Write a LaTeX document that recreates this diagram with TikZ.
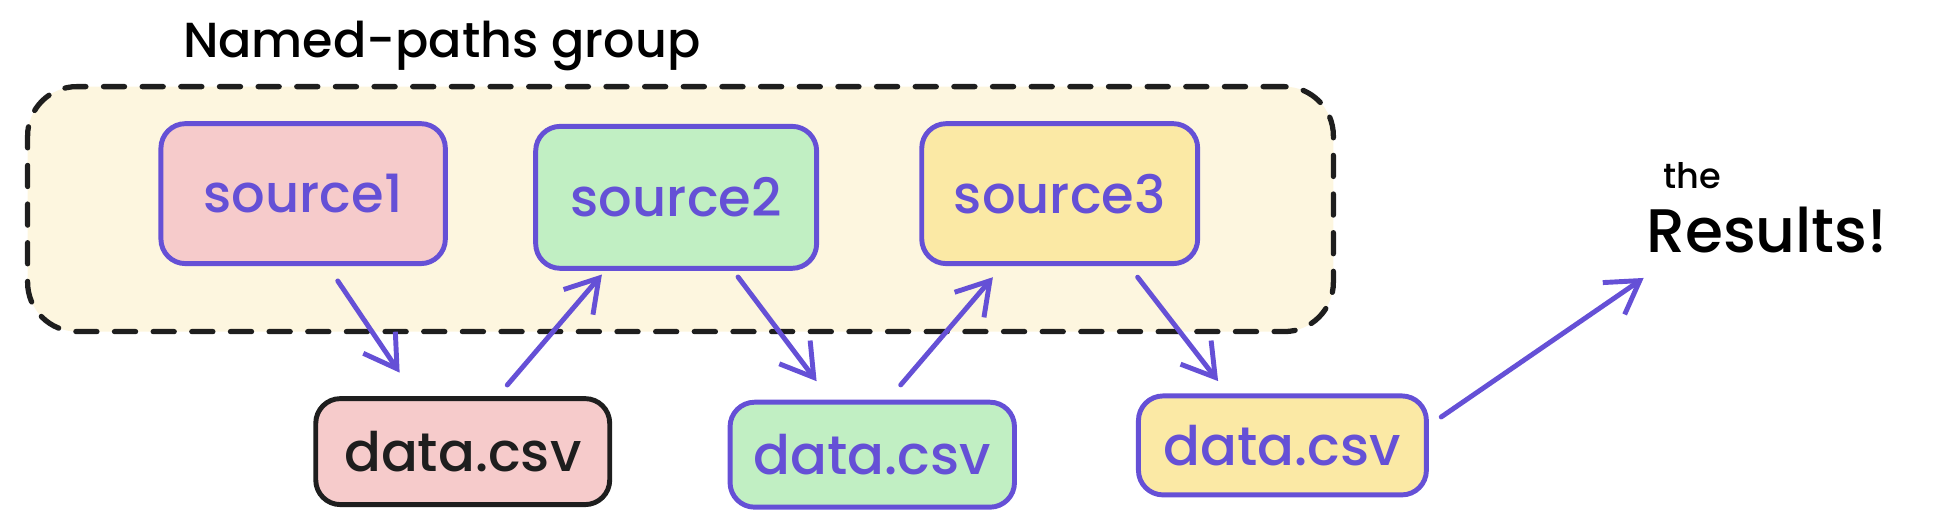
\documentclass[tikz,border=0pt]{standalone}
\usepackage{fontspec}
\setmainfont{Poppins}[UprightFont={* Medium}]
\usetikzlibrary{arrows.meta,calc}
\definecolor{violet}{HTML}{6550D6}
\definecolor{ink}{HTML}{1E1E1E}
\definecolor{rose}{HTML}{F6CBCB}
\definecolor{mint}{HTML}{C1EFC3}
\definecolor{sand}{HTML}{FBE9A5}
\definecolor{cream}{HTML}{FDF6DF}
\tikzset{
  src/.style={draw=violet, text=violet, line width=1.4pt, rounded corners=7pt,
    minimum width=2.8cm, minimum height=1.4cm, inner sep=0pt, font=\fontsize{15}{18}\selectfont},
  csv/.style={src, minimum height=1.03cm, font=\fontsize{15.5}{19}\selectfont},
  arr/.style={draw=violet, line width=1.4pt, line cap=round,
    -{Straight Barb[length=9pt,width=11pt,line width=1.4pt]}},
}
\begin{document}
\begin{tikzpicture}[x=0.01237cm, y=-0.01237cm]
\useasboundingbox (0,0) rectangle (1568,422);
\path (550,169) node (grp) [draw=ink, fill=cream, line width=1.5pt, dash pattern=on 6pt off 5pt,
		line cap=round, rounded corners=14pt, minimum width=13.06cm, minimum height=2.45cm] {}
		(357,37) node (lbl) {\fontsize{14}{17}\selectfont Named-paths group}
		(245,156.5) node (src1) [src, fill=rose, minimum width=2.845cm] {source1}
		(546.5,159.5) node (src2) [src, fill=mint, minimum width=2.81cm, minimum height=1.42cm] {source2}
		(856.5,156.5) node (src3) [src, fill=sand, minimum width=2.76cm] {source3}
		(374,365) node (csv1) [csv, fill=rose, draw=ink, text=ink, minimum width=2.94cm, minimum height=1.06cm] {data.csv}
		(705,367.5) node (csv2) [csv, fill=mint, minimum width=2.845cm, minimum height=1.05cm] {data.csv}
		(1036.5,360) node (csv3) [csv, fill=sand, minimum width=2.88cm, minimum height=0.99cm] {data.csv}
		(1368,142) node (the) {\fontsize{10}{12}\selectfont the}
		(1428,186) node (res) {\fontsize{17.5}{20}\selectfont Results!}
		;
\draw [arr] ($(src1.south)+(28,12)$) -- ($(csv1.north)+(-51,-19)$);
\draw [arr] ($(csv1.north)+(36,-9)$) -- ($(src2.south)+(-60,3)$);
\draw [arr] ($(src2.south)+(50,5)$) -- ($(csv2.north)+(-45,-15)$);
\draw [arr] ($(csv2.north)+(23,-12)$) -- ($(src3.south)+(-54,9)$);
\draw [arr] ($(src3.south)+(63,9)$) -- ($(csv3.north)+(-52,-10)$);
\draw [arr] ($(csv3.east)+(10,-23)$) -- ($(res.south west)+(8,10)$);
\end{tikzpicture}
\end{document}
